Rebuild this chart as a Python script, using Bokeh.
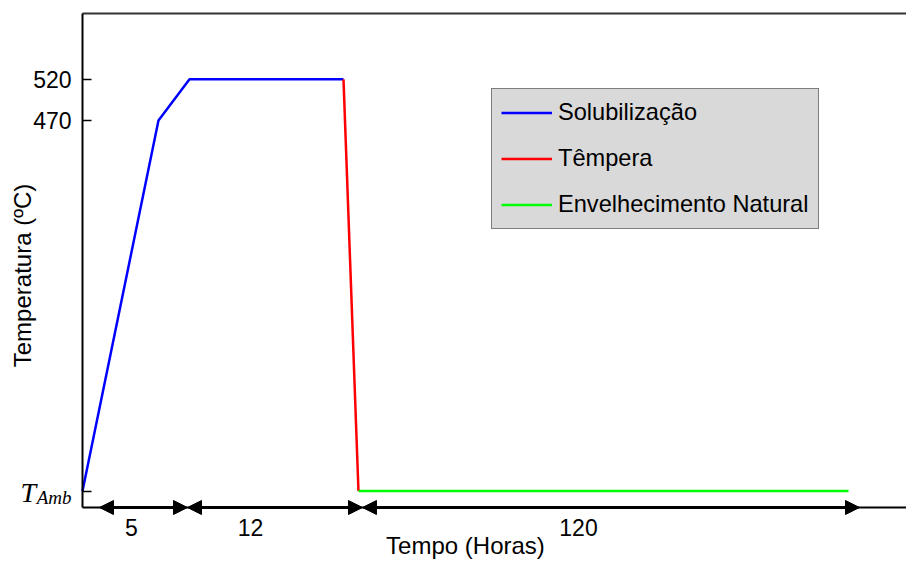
from bokeh.plotting import figure
from bokeh.models import (Range1d, FixedTicker, LinearAxis, Label, Arrow, NormalHead,
                          Legend, LegendItem)
from bokeh.embed import file_html
from bokeh.resources import INLINE

# ---- data (schematic time units, temperature in degC) ----
sol_t = [0.0, 9.13, 12.86, 31.37]
sol_T = [20, 470, 520, 520]
tem_t = [31.37, 33.17]
tem_T = [520, 20]
env_t = [33.17, 92.07]
env_T = [20, 20]

series_names = ["Solubilização", "Têmpera", "Envelhecimento Natural"]
series_colors = ["#0000ff", "#ff0000", "#00ff00"]

y_ticks = [20, 470, 520]
y_tick_labels = ["", "470", "520"]

# duration intervals (arrow ends) and labels
interval_starts = [2.04, 12.62, 33.65]
interval_ends = [12.62, 33.65, 93.39]
interval_label_pos = [5.89, 20.19, 59.62]
interval_labels = ["5", "12", "120"]

FONT = "Liberation Sans"

X0, X1 = -9.856, 99.04
Y0, Y1 = -64.37, 615.79

p = figure(width=906, height=560, output_backend="svg", toolbar_location=None,
           x_range=Range1d(X0, X1), y_range=Range1d(Y0, Y1),
           x_axis_location=None, y_axis_location=None)
p.min_border = 0
p.outline_line_color = None
p.grid.visible = False
p.background_fill_color = "white"
p.border_fill_color = "white"

# left axis
ya = LinearAxis(ticker=FixedTicker(ticks=y_ticks, minor_ticks=[]), fixed_location=0,
                bounds=(0, 600))
ya.major_label_overrides = {t: l for t, l in zip(y_ticks, y_tick_labels)}
ya.axis_line_width = 2
ya.axis_line_color = "black"
ya.major_tick_in = 9
ya.major_tick_out = 0
ya.major_tick_line_width = 1.5
ya.major_tick_line_color = "black"
ya.minor_tick_line_color = None
ya.major_label_standoff = 11
ya.major_label_text_font = FONT
ya.major_label_text_font_size = "23px"
ya.major_label_text_color = "black"
p.add_layout(ya, "left")

# bottom axis
xa = LinearAxis(ticker=FixedTicker(ticks=interval_label_pos, minor_ticks=[]), fixed_location=0,
                bounds=(0, X1))
xa.major_label_overrides = {t: l for t, l in zip(interval_label_pos, interval_labels)}
xa.axis_line_width = 2
xa.axis_line_color = "black"
xa.major_tick_line_color = None
xa.minor_tick_line_color = None
xa.major_tick_in = 0
xa.major_tick_out = 0
xa.major_label_standoff = 11
xa.major_label_text_font = FONT
xa.major_label_text_font_size = "23px"
xa.major_label_text_color = "black"
p.add_layout(xa, "below")

# top border line
ta = LinearAxis(ticker=FixedTicker(ticks=[], minor_ticks=[]), fixed_location=600,
                bounds=(0, X1))
ta.axis_line_width = 2
ta.axis_line_color = "#333333"
ta.major_tick_line_color = None
ta.minor_tick_line_color = None
ta.major_label_text_font_size = "0px"
ta.major_tick_in = 0
ta.major_tick_out = 0
p.add_layout(ta, "above")

r1 = p.line(sol_t, sol_T, line_color=series_colors[0], line_width=2.5)
r2 = p.line(tem_t, tem_T, line_color=series_colors[1], line_width=2.5)
r3 = p.line(env_t, env_T, line_color=series_colors[2], line_width=2.5)

legend = Legend(items=[LegendItem(label=series_names[0], renderers=[r1]),
                       LegendItem(label=series_names[1], renderers=[r2]),
                       LegendItem(label=series_names[2], renderers=[r3])],
                location=(491, 331))
legend.background_fill_color = "#d9d9d9"
legend.background_fill_alpha = 1
legend.border_line_color = "#222222"
legend.border_line_width = 1.5
legend.padding = 9
legend.margin = 0
legend.spacing = 17
legend.label_height = 29
legend.glyph_height = 29
legend.glyph_width = 51
legend.label_standoff = 6
legend.label_text_font = FONT
legend.label_text_font_size = "23.6px"
legend.label_text_color = "black"
p.add_layout(legend, "center")

# duration arrows
for xs, xe in zip(interval_starts, interval_ends):
    p.add_layout(Arrow(x_start=xs, y_start=0, x_end=xe, y_end=0,
                       line_width=3, line_color="black",
                       start=NormalHead(size=14, fill_color="black", line_color="black", line_width=1),
                       end=NormalHead(size=14, fill_color="black", line_color="black", line_width=1)))

# axis titles
p.add_layout(Label(x=46.03, y=-62.5, text="Tempo (Horas)", text_align="center",
                   text_baseline="bottom", text_font=FONT,
                   text_font_size="24px", text_color="black"))
p.add_layout(Label(x=-7.2, y=281.8, text="Temperatura (ºC)", angle=1.5708,
                   text_align="center", text_baseline="middle", text_font=FONT,
                   text_font_size="24px", text_color="black"))

# T_Amb tick label
p.add_layout(Label(x=-7.45, y=18.2, text="T", text_align="left",
                   text_baseline="alphabetic", text_font="Liberation Serif",
                   text_font_style="italic", text_font_size="28px", text_color="black"))
p.add_layout(Label(x=-5.5, y=12.1, text="Amb", text_align="left",
                   text_baseline="alphabetic", text_font="Liberation Serif",
                   text_font_style="italic", text_font_size="19px", text_color="black"))

open("out.html", "w").write(file_html(p, INLINE))
